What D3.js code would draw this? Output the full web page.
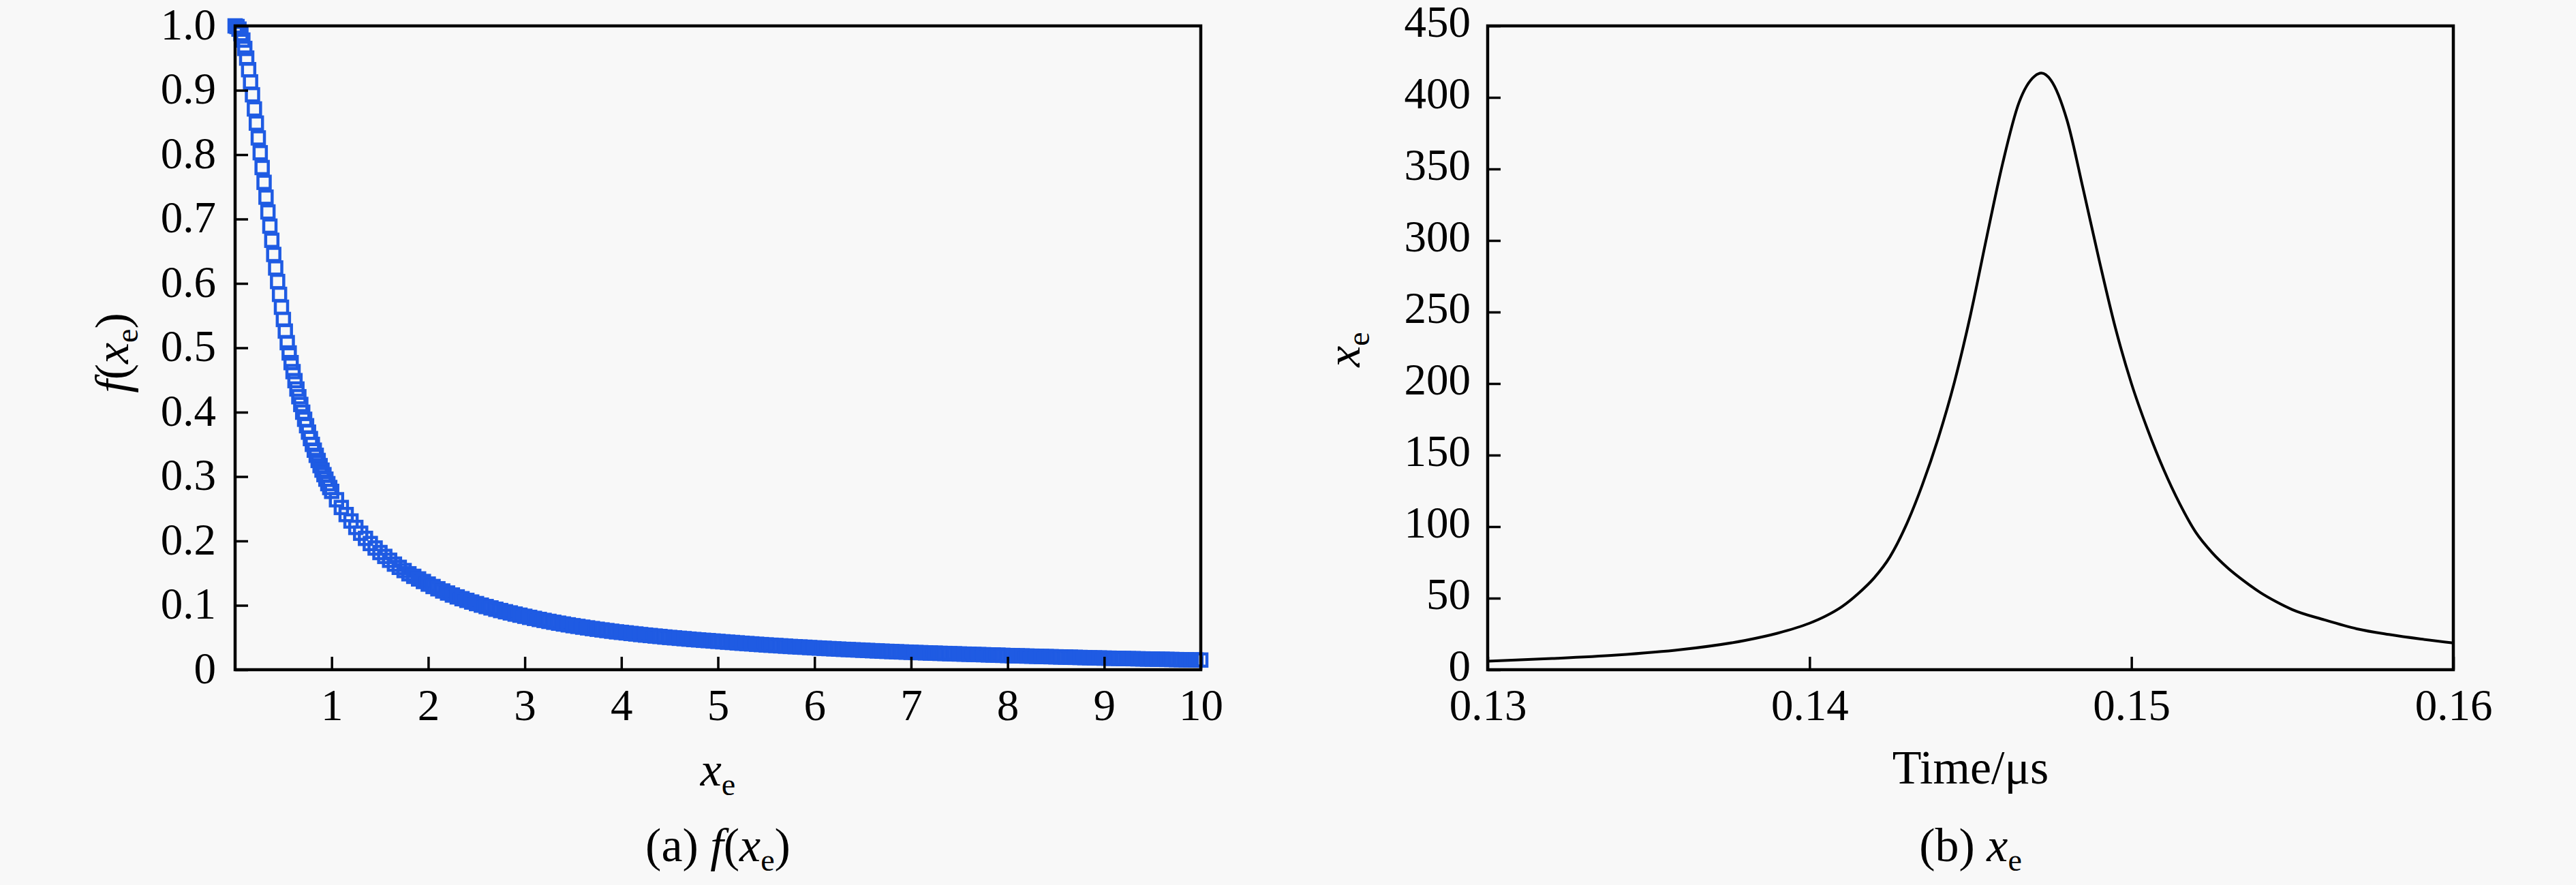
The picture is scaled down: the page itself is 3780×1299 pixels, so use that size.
<!DOCTYPE html>
<html>
<head>
<meta charset="utf-8">
<script src="https://cdn.jsdelivr.net/npm/d3@7"></script>
<style>
  body { margin: 0; background: #f8f8f8; }
  svg { display: block; font-family: "Liberation Serif", "Times New Roman", serif; }
</style>
</head>
<body>
<div id="chart"></div>
<script>
// ---- data ----
// (a) f(xe): steep part, step 0.02
var fXa = [0, 0.02, 0.04, 0.06, 0.08, 0.1, 0.12, 0.14, 0.16, 0.18, 0.2, 0.22, 0.24, 0.26, 0.28, 0.3, 0.32, 0.34, 0.36, 0.38,
           0.4, 0.42, 0.44, 0.46, 0.48, 0.5, 0.52, 0.54, 0.56, 0.58, 0.6, 0.62, 0.64, 0.66, 0.68, 0.7, 0.72, 0.74, 0.76, 0.78,
           0.8, 0.82, 0.84, 0.86, 0.88, 0.9, 0.92, 0.94, 0.96, 0.98, 1];
var fYa = [1.000, 0.999, 0.995, 0.988, 0.978, 0.965, 0.950, 0.932, 0.913, 0.893, 0.871, 0.849, 0.826, 0.803, 0.780, 0.757, 0.734, 0.711, 0.689, 0.667,
           0.645, 0.624, 0.603, 0.583, 0.563, 0.544, 0.526, 0.508, 0.492, 0.477, 0.463, 0.449, 0.436, 0.424, 0.412, 0.400, 0.389, 0.379, 0.369, 0.359,
           0.350, 0.341, 0.333, 0.325, 0.317, 0.310, 0.303, 0.296, 0.289, 0.283, 0.277];
// (a) f(xe): tail, step 0.05
var fXb = [1.05, 1.1, 1.15, 1.2, 1.25, 1.3, 1.35, 1.4, 1.45, 1.5, 1.55, 1.6, 1.65, 1.7, 1.75, 1.8, 1.85, 1.9, 1.95, 2,
           2.05, 2.1, 2.15, 2.2, 2.25, 2.3, 2.35, 2.4, 2.45, 2.5, 2.55, 2.6, 2.65, 2.7, 2.75, 2.8, 2.85, 2.9, 2.95, 3,
           3.05, 3.1, 3.15, 3.2, 3.25, 3.3, 3.35, 3.4, 3.45, 3.5, 3.55, 3.6, 3.65, 3.7, 3.75, 3.8, 3.85, 3.9, 3.95, 4,
           4.05, 4.1, 4.15, 4.2, 4.25, 4.3, 4.35, 4.4, 4.45, 4.5, 4.55, 4.6, 4.65, 4.7, 4.75, 4.8, 4.85, 4.9, 4.95, 5,
           5.05, 5.1, 5.15, 5.2, 5.25, 5.3, 5.35, 5.4, 5.45, 5.5, 5.55, 5.6, 5.65, 5.7, 5.75, 5.8, 5.85, 5.9, 5.95, 6,
           6.05, 6.1, 6.15, 6.2, 6.25, 6.3, 6.35, 6.4, 6.45, 6.5, 6.55, 6.6, 6.65, 6.7, 6.75, 6.8, 6.85, 6.9, 6.95, 7,
           7.05, 7.1, 7.15, 7.2, 7.25, 7.3, 7.35, 7.4, 7.45, 7.5, 7.55, 7.6, 7.65, 7.7, 7.75, 7.8, 7.85, 7.9, 7.95, 8,
           8.05, 8.1, 8.15, 8.2, 8.25, 8.3, 8.35, 8.4, 8.45, 8.5, 8.55, 8.6, 8.65, 8.7, 8.75, 8.8, 8.85, 8.9, 8.95, 9,
           9.05, 9.1, 9.15, 9.2, 9.25, 9.3, 9.35, 9.4, 9.45, 9.5, 9.55, 9.6, 9.65, 9.7, 9.75, 9.8, 9.85, 9.9, 9.95, 10];
var fYb = [0.264, 0.252, 0.241, 0.231, 0.221, 0.212, 0.204, 0.196, 0.189, 0.182, 0.176, 0.170, 0.164, 0.159, 0.154, 0.149, 0.145, 0.141, 0.137, 0.133,
           0.1292, 0.1257, 0.1223, 0.1191, 0.1160, 0.1131, 0.1103, 0.1077, 0.1051, 0.1027, 0.1003, 0.0981, 0.0960, 0.0939, 0.0919, 0.0900, 0.0882, 0.0864, 0.0847, 0.0830,
           0.0813, 0.0797, 0.0781, 0.0766, 0.0751, 0.0737, 0.0723, 0.0710, 0.0697, 0.0684, 0.0673, 0.0661, 0.0650, 0.0639, 0.0628, 0.0618, 0.0608, 0.0598, 0.0588, 0.0580,
           0.0572, 0.0563, 0.0555, 0.0546, 0.0538, 0.0531, 0.0523, 0.0516, 0.0508, 0.0501, 0.0495, 0.0488, 0.0482, 0.0475, 0.0469, 0.0463, 0.0457, 0.0452, 0.0446, 0.0440,
           0.0434, 0.0428, 0.0423, 0.0417, 0.0411, 0.0406, 0.0401, 0.0395, 0.0390, 0.0385, 0.0380, 0.0376, 0.0371, 0.0366, 0.0361, 0.0357, 0.0353, 0.0349, 0.0344, 0.0340,
           0.0336, 0.0332, 0.0328, 0.0324, 0.0320, 0.0316, 0.0313, 0.0309, 0.0306, 0.0302, 0.0299, 0.0295, 0.0292, 0.0288, 0.0285, 0.0282, 0.0279, 0.0276, 0.0273, 0.0270,
           0.0267, 0.0265, 0.0262, 0.0259, 0.0257, 0.0254, 0.0252, 0.0249, 0.0247, 0.0244, 0.0242, 0.0240, 0.0237, 0.0235, 0.0233, 0.0230, 0.0228, 0.0226, 0.0223, 0.0220,
           0.0218, 0.0216, 0.0214, 0.0212, 0.0210, 0.0208, 0.0206, 0.0204, 0.0202, 0.0200, 0.0198, 0.0196, 0.0194, 0.0192, 0.0190, 0.0188, 0.0186, 0.0184, 0.0182, 0.0180,
           0.0179, 0.0177, 0.0175, 0.0174, 0.0172, 0.0171, 0.0169, 0.0168, 0.0166, 0.0165, 0.0163, 0.0162, 0.0160, 0.0159, 0.0157, 0.0156, 0.0154, 0.0153, 0.0151, 0.0150];

// (b) xe against time (us)
var timeUs = [0.130, 0.132, 0.134, 0.136, 0.138, 0.139, 0.140, 0.1405, 0.141, 0.1415, 0.142, 0.1425, 0.143, 0.1435, 0.144, 0.1445,
              0.145, 0.1455, 0.146, 0.1465, 0.147, 0.1472, 0.1475, 0.148, 0.1485, 0.149, 0.1495, 0.150, 0.1505, 0.151, 0.1515,
              0.152, 0.1525, 0.153, 0.1535, 0.154, 0.1545, 0.155, 0.156, 0.157, 0.158, 0.159, 0.160];
var xeVals = [6, 7.8, 10.2, 14, 20.5, 25.5, 32.5, 37.5, 44, 53, 64, 79, 101, 129, 162, 201,
              248, 302, 354, 396, 415, 417, 412, 384, 336, 286, 239, 200, 168, 140, 116,
              96, 82, 71, 62, 54, 47.5, 42, 34.8, 28.6, 24.6, 21.4, 18.7];

// tick values
var fXTicks = [1, 2, 3, 4, 5, 6, 7, 8, 9, 10];
var fYTicks = [0, 0.1, 0.2, 0.3, 0.4, 0.5, 0.6, 0.7, 0.8, 0.9, 1.0];
var tTicks = [0.13, 0.14, 0.15, 0.16];
var xeTicks = [0, 50, 100, 150, 200, 250, 300, 350, 400, 450];

var svgWidth = 3780;
var svgHeight = 1299;
var serif = '"Liberation Serif", "Times New Roman", serif';
var tickFont = 65;
var labelFont = 70;
var subFont = 46;

var svg = d3.select("#chart")
    .append("svg")
    .attr("width", svgWidth)
    .attr("height", svgHeight);

svg.append("rect")
    .attr("width", svgWidth)
    .attr("height", svgHeight)
    .attr("fill", "#f8f8f8");

// plot boxes
var boxA = { left: 345, right: 1762, top: 38, bottom: 983 };
var boxB = { left: 2183, right: 3600, top: 38, bottom: 983 };

// ---------- (a) ----------
var xA = d3.scaleLinear().domain([0, 10]).range([boxA.left, boxA.right]);
var yA = d3.scaleLinear().domain([0, 1]).range([boxA.bottom, boxA.top]);

var fData = fXa.map(function (x, i) { return { x: x, y: fYa[i] }; })
    .concat(fXb.map(function (x, i) { return { x: x, y: fYb[i] }; }));

var mSize = 18;
svg.append("g")
    .selectAll("rect")
    .data(fData)
    .enter()
    .append("rect")
    .attr("x", d => xA(d.x) - mSize / 2)
    .attr("y", d => yA(d.y) - mSize / 2)
    .attr("width", mSize)
    .attr("height", mSize)
    .attr("fill", "none")
    .attr("stroke", "#1f5be3")
    .attr("stroke-width", 4.5);

function styleAxis(g, dy) {
    g.attr("font-family", serif).attr("font-size", tickFont);
    g.select(".domain").remove();
    g.selectAll(".tick line").attr("stroke", "#000").attr("stroke-width", 3.5);
    g.selectAll(".tick text").attr("fill", "#000");
    if (dy !== undefined) g.selectAll(".tick text").attr("dy", dy);
}

svg.append("g")
    .attr("transform", `translate(0, ${boxA.bottom})`)
    .call(d3.axisBottom(xA).tickValues(fXTicks).tickSize(-19).tickSizeOuter(0).tickPadding(28).tickFormat(d3.format("d")))
    .call(g => styleAxis(g));

svg.append("g")
    .attr("transform", `translate(${boxA.left}, 0)`)
    .call(d3.axisLeft(yA).tickValues(fYTicks).tickSize(-19).tickSizeOuter(0).tickPadding(28)
        .tickFormat(d => d === 0 ? "0" : d3.format(".1f")(d)))
    .call(g => styleAxis(g, "19px"));

svg.append("rect")
    .attr("x", boxA.left)
    .attr("y", boxA.top)
    .attr("width", boxA.right - boxA.left)
    .attr("height", boxA.bottom - boxA.top)
    .attr("fill", "none")
    .attr("stroke", "#000")
    .attr("stroke-width", 4.5);

// ---------- (b) ----------
var xB = d3.scaleLinear().domain([0.13, 0.16]).range([boxB.left, boxB.right]);
var yB = d3.scaleLinear().domain([0, 450]).range([boxB.bottom, boxB.top]);

var line = d3.line()
    .x(d => xB(d[0]))
    .y(d => yB(d[1]))
    .curve(d3.curveMonotoneX);

svg.append("path")
    .datum(timeUs.map((t, i) => [t, xeVals[i]]))
    .attr("d", line)
    .attr("fill", "none")
    .attr("stroke", "#000")
    .attr("stroke-width", 4);

svg.append("g")
    .attr("transform", `translate(0, ${boxB.bottom})`)
    .call(d3.axisBottom(xB).tickValues(tTicks).tickSize(-19).tickSizeOuter(0).tickPadding(28).tickFormat(d3.format(".2f")))
    .call(g => styleAxis(g));

svg.append("g")
    .attr("transform", `translate(${boxB.left}, 0)`)
    .call(d3.axisLeft(yB).tickValues(xeTicks).tickSize(-19).tickSizeOuter(0).tickPadding(25).tickFormat(d3.format("d")))
    .call(g => styleAxis(g, "15px"));

svg.append("rect")
    .attr("x", boxB.left)
    .attr("y", boxB.top)
    .attr("width", boxB.right - boxB.left)
    .attr("height", boxB.bottom - boxB.top)
    .attr("fill", "none")
    .attr("stroke", "#000")
    .attr("stroke-width", 4.5);

// ---------- labels ----------
function sub(t, s) {
    t.append("tspan").attr("dy", 14).style("font-size", subFont + "px").style("font-style", "normal").text(s);
}

// y label (a): f(xe)
var yLabA = svg.append("text")
    .attr("transform", "translate(188, 518) rotate(-90)")
    .attr("text-anchor", "middle")
    .style("font-size", labelFont + "px");
yLabA.append("tspan").style("font-style", "italic").text("f");
yLabA.append("tspan").text("(");
yLabA.append("tspan").style("font-style", "italic").text("x");
sub(yLabA, "e");
yLabA.append("tspan").attr("dy", -14).text(")");

// x label (a): xe
var xLabA = svg.append("text")
    .attr("x", (boxA.left + boxA.right) / 2)
    .attr("y", 1153)
    .attr("text-anchor", "middle")
    .style("font-size", labelFont + "px");
xLabA.append("tspan").style("font-style", "italic").text("x");
sub(xLabA, "e");

// caption (a)
var capA = svg.append("text")
    .attr("x", (boxA.left + boxA.right) / 2)
    .attr("y", 1264)
    .attr("text-anchor", "middle")
    .style("font-size", labelFont + "px");
capA.append("tspan").text("(a) ");
capA.append("tspan").style("font-style", "italic").text("f");
capA.append("tspan").text("(");
capA.append("tspan").style("font-style", "italic").text("x");
sub(capA, "e");
capA.append("tspan").attr("dy", -14).text(")");

// y label (b): xe
var yLabB = svg.append("text")
    .attr("transform", "translate(1995, 513) rotate(-90)")
    .attr("text-anchor", "middle")
    .style("font-size", labelFont + "px");
yLabB.append("tspan").style("font-style", "italic").text("x");
sub(yLabB, "e");

// x label (b)
svg.append("text")
    .attr("x", (boxB.left + boxB.right) / 2)
    .attr("y", 1150)
    .attr("text-anchor", "middle")
    .style("font-size", labelFont + "px")
    .text("Time/μs");

// caption (b)
var capB = svg.append("text")
    .attr("x", (boxB.left + boxB.right) / 2)
    .attr("y", 1264)
    .attr("text-anchor", "middle")
    .style("font-size", labelFont + "px");
capB.append("tspan").text("(b) ");
capB.append("tspan").style("font-style", "italic").text("x");
sub(capB, "e");
</script>
</body>
</html>
